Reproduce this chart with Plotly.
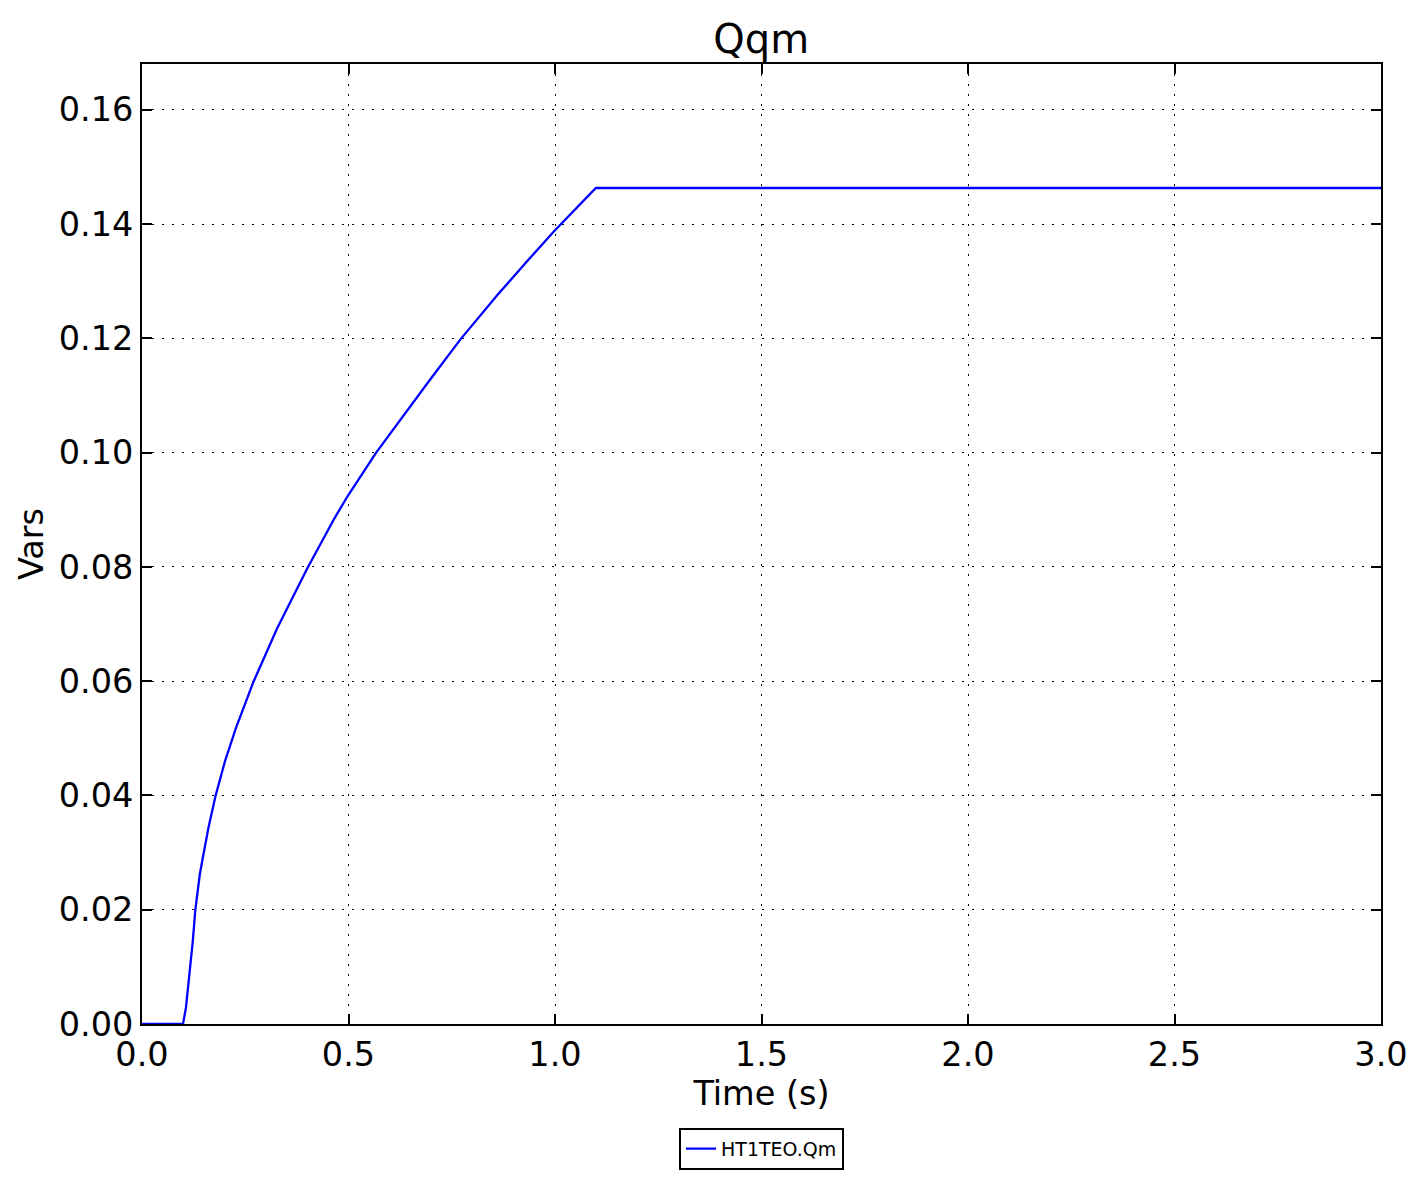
import plotly.graph_objects as go

# HT1TEO.Qm
time_s = [0.0, 0.0993, 0.1065, 0.1155, 0.123, 0.129, 0.140, 0.147, 0.153, 0.161,
          0.178, 0.201, 0.228, 0.270, 0.327, 0.369, 0.400, 0.466, 0.498, 0.567,
          0.635, 0.700, 0.772, 0.861, 0.934, 0.996, 1.099, 3.0]
qm_vals = [0.0, 0.0, 0.0029, 0.0087, 0.0145, 0.0199, 0.0262, 0.0290, 0.0315, 0.0344,
           0.0399, 0.0460, 0.0519, 0.0599, 0.0692, 0.0752, 0.0797, 0.0885, 0.0924, 0.1000,
           0.1067, 0.1130, 0.1199, 0.1276, 0.1336, 0.1386, 0.1463, 0.1463]

x_ticks = [0.0, 0.5, 1.0, 1.5, 2.0, 2.5, 3.0]
y_ticks = [0.00, 0.02, 0.04, 0.06, 0.08, 0.10, 0.12, 0.14, 0.16]

font_family = 'DejaVu Sans'

fig = go.Figure()
fig.add_trace(go.Scatter(x=time_s, y=qm_vals, mode='lines', name='HT1TEO.Qm',
                         line=dict(color='#0000ff', width=2.3)))

axis_common = dict(
    showline=True, linecolor='black', linewidth=2, mirror='allticks',
    ticks='inside', ticklen=10, tickwidth=1.5, tickcolor='black',
    showgrid=True, gridcolor='black', gridwidth=1, griddash='2px,8px',
    zeroline=False,
    tickfont=dict(family=font_family, size=33.5, color='black'),
)

fig.update_layout(
    width=1424, height=1182,
    margin=dict(l=134, r=51, t=56, b=166),
    plot_bgcolor='white', paper_bgcolor='white',
    font=dict(family=font_family, color='black'),
    title=dict(text='Qqm', x=0.529, xanchor='center', y=0.974, yanchor='middle',
               font=dict(family=font_family, size=40, color='black')),
    xaxis=dict(range=[0, 3.0], tickvals=x_ticks, tickformat='.1f',
               title=dict(text='Time (s)', font=dict(family=font_family, size=33.5), standoff=4),
               **axis_common),
    yaxis=dict(range=[0, 0.168], tickvals=y_ticks, tickformat='.2f',
               title=dict(text='Vars', font=dict(family=font_family, size=33.5), standoff=5),
               **axis_common),
    showlegend=True,
    legend=dict(orientation='h', x=0.5, xanchor='center', y=-0.108, yanchor='top',
                bordercolor='black', borderwidth=2, bgcolor='white',
                font=dict(family=font_family, size=19, color='black')),
)

fig.write_html('out.html')
